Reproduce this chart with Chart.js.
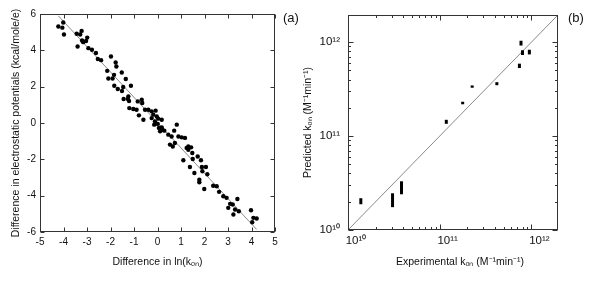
<!DOCTYPE html>
<html>
<head>
<meta charset="utf-8">
<script src="https://cdn.jsdelivr.net/npm/chart.js@4.4.1/dist/chart.umd.min.js"></script>
<style>
  body { margin: 0; background: #fff; }
  #wrap { position: relative; width: 600px; height: 281px; }
  canvas { position: absolute; top: 0; }
</style>
</head>
<body>
<div id="wrap">
  <canvas id="chartA" width="300" height="281" style="left:0"></canvas>
  <canvas id="chartB" width="300" height="281" style="left:300px"></canvas>
</div>
<script>
// panel (a): difference in ln(kon) vs difference in potentials
const diffLnK = [-4.22,-4.05,-4.01,-3.98,-3.44,-3.40,-3.29,-3.23,-3.21,-3.16,-3.04,-2.99,-2.94,-2.79,-2.62,-2.54,-2.40,-2.14,-2.09,-1.98,-1.91,-1.85,-1.84,-1.78,-1.75,-1.69,-1.52,-1.51,-1.46,-1.44,-1.35,-1.26,-1.24,-1.21,-1.13,-1.20,-1.03,
  -0.84,-0.67,-0.65,-0.89,-0.79,-0.60,-0.53,-0.39,-0.25,-0.08,-0.18,-0.03,-0.25,-0.11,0.03,0.18,-0.14,0.01,0.06,0.18,0.11,0.20,0.29,0.46,0.60,0.71,0.82,0.53,0.74,0.65,0.89,1.03,1.17,1.24,1.31,1.43,1.31,1.48,
  1.10,1.38,1.50,1.57,1.71,1.78,1.78,1.85,1.89,1.91,1.99,2.06,2.12,2.37,2.52,2.62,2.80,2.94,3.01,3.09,3.20,3.23,3.30,3.40,3.46,3.98,4.03,4.08,4.22];
const diffPot = [5.31,5.25,5.53,4.87,4.91,4.21,4.87,5.07,4.54,4.45,4.51,4.70,4.12,4.03,3.85,3.52,3.46,2.87,2.45,3.66,2.45,2.65,2.05,3.33,3.11,1.87,2.78,1.76,1.98,1.32,2.42,1.32,1.46,1.21,2.05,0.82,0.77,
  1.19,1.28,1.10,0.73,0.42,0.18,0.73,0.73,0.64,0.68,0.46,0.36,0.27,0.09,0.24,0.18,-0.09,-0.05,-0.27,-0.24,-0.46,-0.37,-0.42,-0.64,-0.74,-0.42,-0.09,-1.19,-1.10,-1.29,-0.74,-0.79,-0.82,-1.37,-1.29,-1.34,-1.47,-1.65,
  -2.05,-2.42,-1.98,-2.75,-1.84,-3.12,-3.26,-2.05,-2.42,-2.66,-3.63,-2.42,-2.82,-3.45,-3.48,-3.79,-4.03,-4.12,-4.67,-4.45,-4.49,-5.04,-4.76,-4.18,-4.86,-4.80,-5.46,-5.22,-5.26];
const fitX = [-4.22, 4.22];
const fitY = [5.90, -5.86];

// panel (b): experimental vs predicted kon (error ranges)
const expK   = [1.38e10, 3.06e10, 3.83e10, 1.18e11, 1.78e11, 2.26e11, 4.2e11, 7.4e11, 7.7e11, 8.0e11, 9.5e11];
const predLo = [1.88e10, 1.75e10, 2.40e10, 1.35e11, 2.18e11, 3.27e11, 3.48e11, 5.3e11, 9.2e11, 7.3e11, 7.4e11];
const predHi = [2.18e10, 2.46e10, 3.30e10, 1.49e11, 2.32e11, 3.46e11, 3.75e11, 5.9e11, 1.035e12, 8.2e11, 8.3e11];
const diagK  = [1e10, 1.95e12];

const FONT = '"Liberation Sans", Arial, sans-serif';
const SUP = '⁰¹²³⁴⁵⁶⁷⁸⁹';
function isPow10(v) {
  const e = Math.log10(v);
  return Math.abs(e - Math.round(e)) < 1e-6;
}
function powLabel(v) {
  if (!isPow10(v)) return '';
  return '10' + String(Math.round(Math.log10(v))).split('').map(d => SUP[d]).join('');
}
function logTicks(scale) {
  const out = [];
  for (let e = 10; e <= 12; e++) {
    for (let m = 1; m <= 9; m++) {
      const v = m * Math.pow(10, e);
      if (v <= scale.max * 1.0001) out.push({ value: v });
    }
  }
  scale.ticks = out;
}

// gnuplot-like box with inward ticks, a panel letter and (optionally) a shifted x title
const framePlugin = {
  id: 'frame',
  afterDatasetsDraw(chart, args, opts) {
    const { ctx, chartArea: a, scales } = chart;
    const L = Math.round(a.left) + 0.5, R = Math.round(a.right) - 0.5;
    const T = Math.round(a.top) + 0.5, B = Math.round(a.bottom) - 0.5;
    ctx.save();
    ctx.strokeStyle = '#333';
    ctx.lineWidth = 1;
    ctx.beginPath();
    scales.x.ticks.forEach(t => {
      const x = Math.round(scales.x.getPixelForValue(t.value)) + 0.5;
      const len = opts.log && !isPow10(t.value) ? 2.5 : opts.major;
      ctx.moveTo(x, B); ctx.lineTo(x, B - len);
      ctx.moveTo(x, T); ctx.lineTo(x, T + len);
    });
    scales.y.ticks.forEach(t => {
      const y = Math.round(scales.y.getPixelForValue(t.value)) + 0.5;
      const len = opts.log && !isPow10(t.value) ? 2.5 : opts.major;
      ctx.moveTo(L, y); ctx.lineTo(L + len, y);
      ctx.moveTo(R, y); ctx.lineTo(R - len, y);
    });
    ctx.stroke();
    ctx.strokeRect(L, T, R - L, B - T);
    ctx.fillStyle = '#111';
    ctx.font = '13px ' + FONT;
    ctx.textBaseline = 'middle';
    ctx.fillText(opts.label, a.right + opts.labelDx, a.top + 4);
    if (opts.xTitle) {
      ctx.font = '10.5px ' + FONT;
      ctx.textAlign = 'center';
      ctx.fillText(opts.xTitle, (a.left + a.right) / 2 + opts.xTitleDx, opts.xTitleY);
    }
    ctx.restore();
  }
};

const tickFont = { family: FONT, size: 10 };
const titleFont = { family: FONT, size: 10.5 };

new Chart(document.getElementById('chartA'), {
  type: 'scatter',
  data: {
    datasets: [{
      data: diffLnK.map((x, i) => ({ x: x, y: diffPot[i] })),
      pointRadius: 2.2,
      pointBackgroundColor: '#000',
      pointBorderWidth: 0,
      order: 0
    }, {
      data: fitX.map((x, i) => ({ x: x, y: fitY[i] })),
      showLine: true,
      borderColor: '#8a8a8a',
      borderWidth: 1,
      pointRadius: 0,
      order: 1
    }]
  },
  options: {
    responsive: false,
    animation: false,
    layout: { padding: { top: 14, right: 25, left: 0, bottom: 0 } },
    plugins: {
      legend: { display: false },
      tooltip: { enabled: false },
      frame: { label: '(a)', labelDx: 8, major: 4, log: false }
    },
    scales: {
      x: {
        type: 'linear', min: -5, max: 5,
        grid: { display: false, drawTicks: false },
        border: { display: false },
        ticks: { stepSize: 1, font: tickFont, color: '#111', padding: 4, maxRotation: 0 },
        title: { display: true, text: 'Difference in ln(kₒₙ)', font: titleFont, color: '#111', padding: { top: 0, bottom: 13 } },
        afterFit: s => { s.height = 49; }
      },
      y: {
        type: 'linear', min: -6, max: 6,
        grid: { display: false, drawTicks: false },
        border: { display: false },
        ticks: { stepSize: 2, font: tickFont, color: '#111', padding: 4 },
        title: { display: true, text: 'Difference in electrostatic potentials (kcal/mole/e)', font: titleFont, color: '#111', padding: { top: 10, bottom: 0 } },
        afterFit: s => { s.width = 40; }
      }
    }
  },
  plugins: [framePlugin]
});

const barSets = expK.map((x, i) => ({
  data: [{ x: x, y: predLo[i] }, { x: x, y: predHi[i] }],
  showLine: true,
  borderColor: '#000',
  borderWidth: 3,
  borderCapStyle: 'butt',
  pointRadius: 0,
  order: 0
}));
barSets.push({
  data: diagK.map(v => ({ x: v, y: v })),
  showLine: true,
  borderColor: '#8a8a8a',
  borderWidth: 1,
  pointRadius: 0,
  order: 1
});

new Chart(document.getElementById('chartB'), {
  type: 'scatter',
  data: { datasets: barSets },
  options: {
    responsive: false,
    animation: false,
    layout: { padding: { top: 13, right: 42, left: 0, bottom: 0 } },
    plugins: {
      legend: { display: false },
      tooltip: { enabled: false },
      frame: { label: '(b)', labelDx: 10, major: 5, log: true,
               xTitle: 'Experimental kₒₙ (M⁻¹min⁻¹)', xTitleDx: 7, xTitleY: 262 }
    },
    scales: {
      x: {
        type: 'logarithmic', min: 1e10, max: 1.95e12,
        grid: { display: false, drawTicks: false },
        border: { display: false },
        afterBuildTicks: logTicks,
        ticks: { autoSkip: false, callback: powLabel, font: { family: FONT, size: 11.5 }, color: '#111', padding: 4, maxRotation: 0, labelOffset: 8 },
        title: { display: false },
        afterFit: s => { s.height = 51; }
      },
      y: {
        type: 'logarithmic', min: 1e10, max: 1.95e12,
        grid: { display: false, drawTicks: false },
        border: { display: false },
        afterBuildTicks: logTicks,
        ticks: { autoSkip: false, callback: powLabel, font: { family: FONT, size: 11.5 }, color: '#111', padding: 8 },
        title: { display: true, text: 'Predicted kₒₙ (M⁻¹min⁻¹)', font: titleFont, color: '#111', padding: { top: 2, bottom: 0 } },
        afterFit: s => { s.width = 48; }
      }
    }
  },
  plugins: [framePlugin]
});
</script>
</body>
</html>
